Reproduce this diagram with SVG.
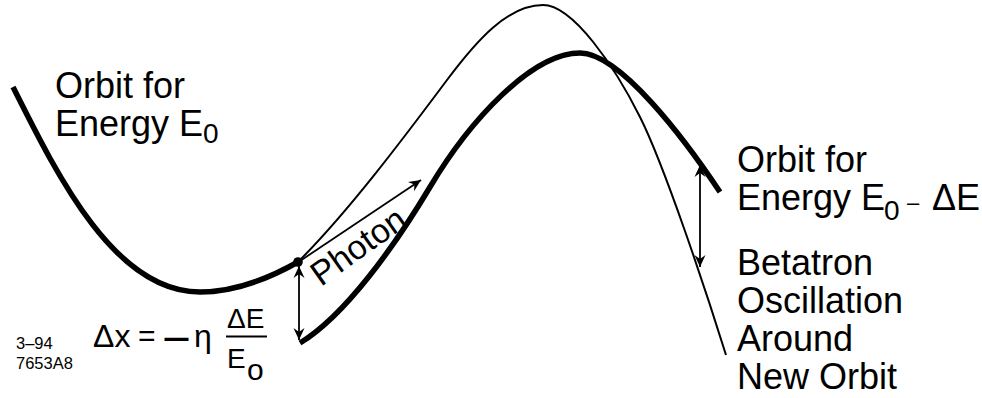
<svg xmlns="http://www.w3.org/2000/svg" width="982" height="398" viewBox="0 0 982 398">
<style>
  .thick{fill:none;stroke:#000;stroke-width:5.5;stroke-linecap:butt;stroke-linejoin:round}
  .thin{fill:none;stroke:#000;stroke-width:2;stroke-linecap:butt;stroke-linejoin:round}
  .arr{fill:none;stroke:#000;stroke-width:1.8}
  text{font-family:"Liberation Sans",Arial,Helvetica,sans-serif;fill:#000}
  .lbl{font-size:36px}
  .sub{font-size:28px}
  .small{font-size:16.5px}
</style>
<defs>
  <marker id="ah" viewBox="-13 -6 14 12" refX="0" refY="0" markerWidth="14" markerHeight="12" markerUnits="userSpaceOnUse" orient="auto-start-reverse">
    <path d="M0,0 L-12,-5.5 L-8,0 L-12,5.5 Z" fill="#000"/>
  </marker>
</defs>
<rect width="982" height="398" fill="#fff"/>

<g id="orbit-e0">
  <path class="thick" d="M13,87 C58,177 115,292 200,292 C235,292 267,279.5 298,262"/>
  <circle cx="298" cy="262" r="4.8" fill="#000"/>
</g>

<g id="betatron-orbit">
  <path class="thin" d="M298,262 C348,212 402,140.3 447,80 C477,39.8 508,5 543,5 C573,5 615,67 640,117 C665,167 706,291 726,355"/>
</g>

<g id="orbit-e0-de">
  <path class="thick" d="M300,343 C345,316 395,245.5 430,187 C470,120 532,53 580,53 C620,53 685,139.5 720,192"/>
</g>

<g id="connectors">
  <line class="arr" x1="299" y1="266" x2="299" y2="340" marker-start="url(#ah)" marker-end="url(#ah)"/>
  <line class="arr" x1="700" y1="165" x2="700" y2="267" marker-start="url(#ah)" marker-end="url(#ah)"/>
  <line class="arr" x1="300" y1="261" x2="421" y2="180" marker-end="url(#ah)"/>
</g>

<g id="label-orbit-e0">
  <text class="lbl" x="55" y="98">Orbit for</text>
  <text class="lbl" x="55" y="136">Energy E</text>
  <text class="sub" x="203" y="143">0</text>
</g>

<g id="label-photon">
  <text class="lbl" transform="translate(321,287) rotate(-35.5)" style="font-size:34px">Photon</text>
</g>

<g id="label-orbit-e0-de">
  <text class="lbl" x="737" y="172">Orbit for</text>
  <text class="lbl" x="737" y="210">Energy E</text>
  <text class="sub" x="884" y="220">0</text>
  <text x="907" y="210" style="font-size:22px">–</text>
  <text class="lbl" x="932" y="210">ΔE</text>
</g>

<g id="label-betatron">
  <text class="lbl" x="737" y="275">Betatron</text>
  <text class="lbl" x="737" y="313">Oscillation</text>
  <text class="lbl" x="737" y="351">Around</text>
  <text class="lbl" x="737" y="389">New Orbit</text>
</g>

<g id="formula">
  <text x="93" y="347" style="font-size:32px">Δx</text>
  <text x="138" y="346" style="font-size:30px">=</text>
  <text x="163" y="348" style="font-size:34px;font-weight:bold" textLength="27" lengthAdjust="spacingAndGlyphs">–</text>
  <text x="194" y="347" style="font-size:32px">η</text>
  <text x="227" y="328" class="sub">ΔE</text>
  <line x1="226" y1="336.5" x2="267" y2="336.5" stroke="#000" stroke-width="2"/>
  <text x="227" y="368" class="sub">E</text>
  <text x="247" y="380" style="font-size:30px">o</text>
</g>

<g id="figure-id">
  <text class="small" x="16" y="349">3–94</text>
  <text class="small" x="16" y="369">7653A8</text>
</g>
</svg>
